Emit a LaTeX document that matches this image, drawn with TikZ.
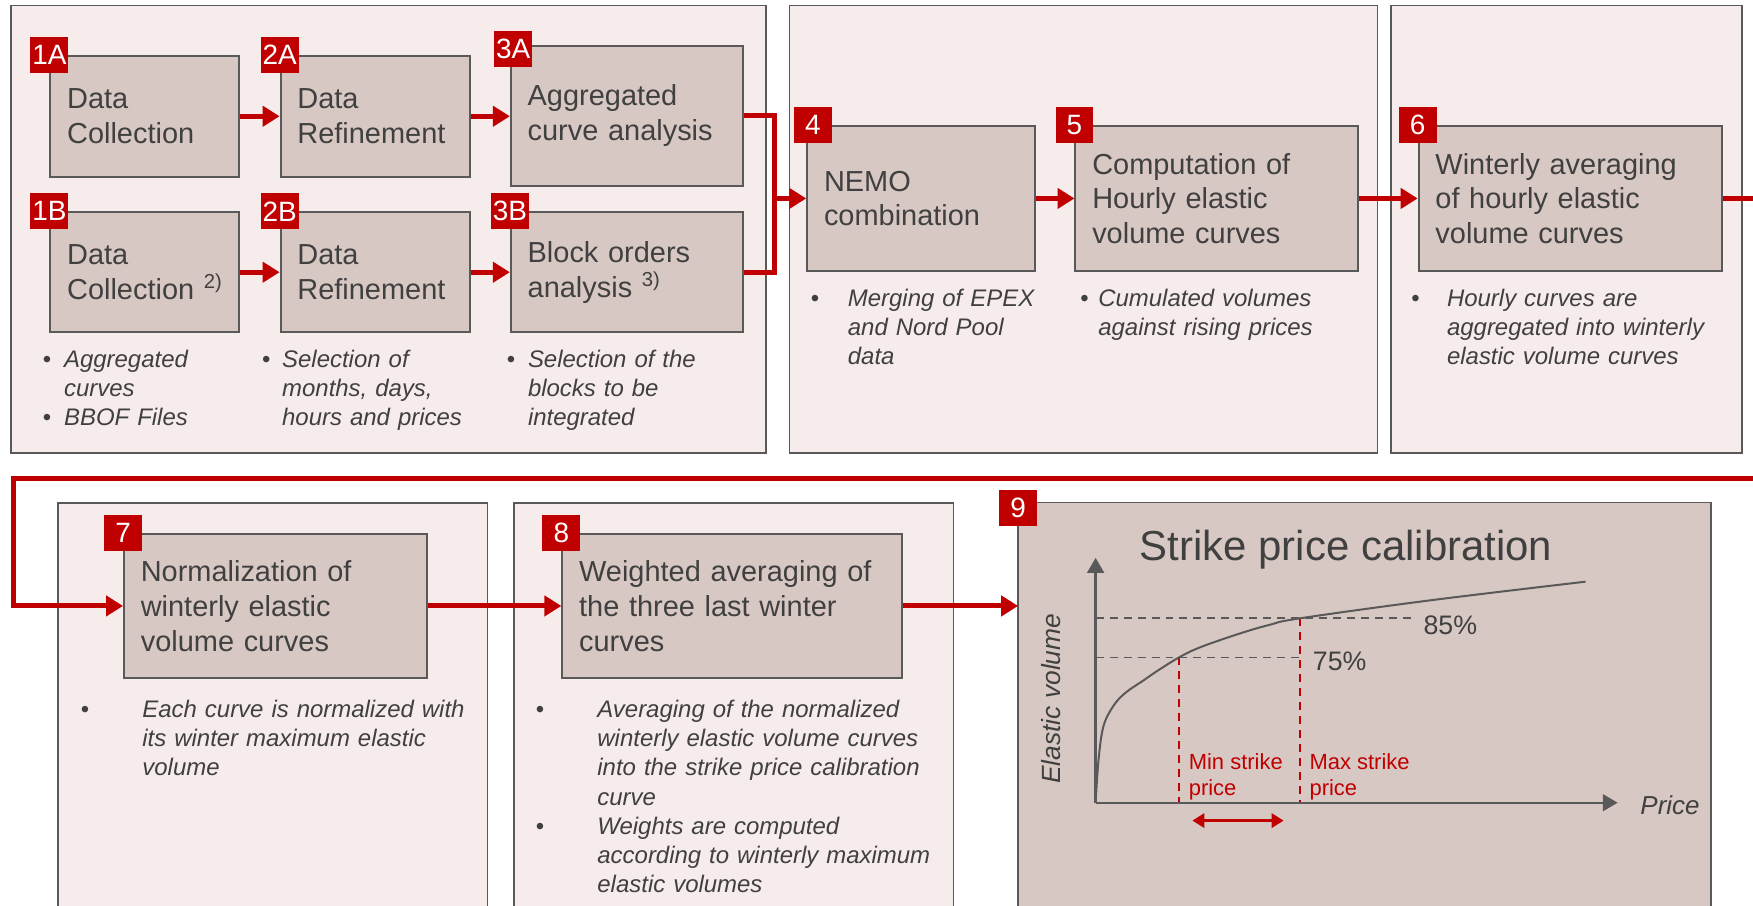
\documentclass[tikz,border=0pt]{standalone}
\usepackage{fontspec}
\setmainfont{Liberation Sans}
\usepackage{tikz}
\usetikzlibrary{arrows.meta,positioning,calc}
\definecolor{SPred}{RGB}{192,0,0}
\definecolor{SPpanel}{RGB}{247,236,236}
\definecolor{SPbox}{RGB}{216,200,196}
\definecolor{SPline}{RGB}{89,89,89}
\definecolor{SPtext}{RGB}{64,64,64}
\newcommand{\bpoint}[2]{\noindent\hangindent=#1\hangafter=1\makebox[#1][l]{\textbullet}{\itshape\let\\\newline #2}\par}

\begin{document}
\begin{tikzpicture}[x=0.56pt, y=-0.56pt,
    panel/.style={fill=SPpanel, draw=SPline, line width=0.8pt},
    procbox/.style={draw=SPline, line width=1pt, fill=SPbox, align=left, inner xsep=8.4pt, inner ysep=0pt,
        font=\fontsize{14.5}{17.4}\selectfont, text=SPtext},
    badge/.style={fill=SPred, text=white, minimum width=19pt, minimum height=18pt, inner sep=0pt,
        font=\fontsize{14}{14}\selectfont},
    note/.style={anchor=north west, inner sep=0pt, text width=200pt, align=left,
        font=\fontsize{12}{14.6}\selectfont, text=SPtext},
    flow/.style={draw=SPred, line width=2.5pt},
    flowarrow/.style={flow, -{Triangle[length=8.5pt,width=10pt]}},
    axis/.style={draw=SPline, line width=1.2pt, -{Triangle[length=7.5pt,width=8.4pt]}},
    guide/.style={dashed, dash pattern=on 4pt off 3pt, line width=0.8pt},
    lbl/.style={text=SPtext, inner sep=0pt}]
    \useasboundingbox (0,0) rectangle (1568,810);

    % Panels
    \draw[panel] (10,5) rectangle (685,405);
    \draw[panel] (706,5) rectangle (1232,405);
    \draw[panel] (1244,5) rectangle (1558,405);
    \fill[SPpanel] (52,450) rectangle (436,810);
    \draw[SPline, line width=0.8pt] (52,810) |- (436,450) -- (436,810);
    \fill[SPpanel] (460,450) rectangle (853,810);
    \draw[SPline, line width=0.8pt] (460,810) |- (853,450) -- (853,810);
    \node[fill=SPbox, minimum width=346.6pt, minimum height=201.6pt, inner sep=0pt] (calib) at (1220.5,630) {};
    \draw[SPline, line width=0.8pt] (calib.south west) |- (calib.north east) -- (calib.south east);

    % Steps
    \node[procbox, text width=77.8pt, minimum height=60.5pt] (dc1a) at (129.5,104) {Data\\Collection};
    \node[procbox, text width=77.8pt, minimum height=60.5pt] (ref2a) at (335.5,104) {Data\\Refinement};
    \node[procbox, text width=99.7pt, minimum height=70pt] (agg3a) at (561,103.5) {Aggregated\\curve analysis};
    \node[procbox, text width=77.8pt, minimum height=60pt] (dc1b) at (129.5,243.5) {Data\\\mbox{Collection \textsuperscript{2)}}};
    \node[procbox, text width=77.8pt, minimum height=60pt] (ref2b) at (335.5,243.5) {Data\\Refinement};
    \node[procbox, text width=99.7pt, minimum height=60pt] (blk3b) at (561,243.5) {Block orders\\analysis \textsuperscript{3)}};
    \node[procbox, text width=97.4pt, minimum height=72.2pt] (nemo) at (824,177.5) {NEMO\\combination};
    \node[procbox, text width=124.9pt, minimum height=72.2pt] (cumv) at (1088.5,177.5) {Computation of\\Hourly elastic\\volume curves};
    \node[procbox, text width=135pt, minimum height=72.2pt] (wint) at (1404.5,177.5) {Winterly averaging\\of hourly elastic\\volume curves};
    \node[procbox, text width=135pt, minimum height=71.7pt] (norm) at (246.5,542) {Normalization of\\winterly elastic\\volume curves};
    \node[procbox, text width=153.4pt, minimum height=71.7pt] (wavg) at (655,542) {Weighted averaging of\\the three last winter\\curves};

    % Badges
    \node[badge] (b1a) at (dc1a.north west) {1A};
    \node[badge] (b2a) at (ref2a.north west) {2A};
    \node[badge] (b3a) at ($(agg3a.north west)+(3,4)$) {3A};
    \node[badge] (b1b) at (dc1b.north west) {1B};
    \node[badge] (b2b) at (ref2b.north west) {2B};
    \node[badge] (b3b) at (blk3b.north west) {3B};
    \node[badge] (b4) at ($(nemo.north west)+(6,0)$) {4};
    \node[badge] (b5) at (cumv.north west) {5};
    \node[badge] (b6) at (wint.north west) {6};
    \node[badge] (b7) at (norm.north west) {7};
    \node[badge] (b8) at (wavg.north west) {8};
    \node[badge] (b9) at ($(calib.north west)+(0,5)$) {9};

    % Notes
    \node[note] (n1) at (38,313) {\bpoint{10.6pt}{Aggregated\\curves}\bpoint{10.6pt}{BBOF Files}};
    \node[note] (n2) at (234,313) {\bpoint{10.1pt}{Selection of\\months, days,\\hours and prices}};
    \node[note] (n3) at (453,313) {\bpoint{10.6pt}{Selection of the\\blocks to be\\integrated}};
    \node[note] (n4) at (725,258) {\bpoint{18.5pt}{Merging of EPEX\\and Nord Pool\\data}};
    \node[note] (n5) at (966,258) {\bpoint{9pt}{Cumulated volumes\\against rising prices}};
    \node[note] (n6) at (1262,258) {\bpoint{17.9pt}{Hourly curves are\\aggregated into winterly\\elastic volume curves}};
    \node[note] (n7) at (72,626) {\bpoint{30.8pt}{Each curve is normalized with\\its winter maximum elastic\\volume}};
    \node[note] (n8) at (479,626) {\bpoint{30.8pt}{Averaging of the normalized\\winterly elastic volume curves\\into the strike price calibration\\curve}\bpoint{30.8pt}{Weights are computed\\according to winterly maximum\\elastic volumes}};

    % Flow
    \coordinate (join) at (693,177.5);
    \coordinate (exitR) at (1568,177.5);
    \coordinate (wrapR) at (1568,428);
    \coordinate (wrapL) at (12,428);
    \draw[flowarrow] (dc1a) -- (ref2a);
    \draw[flowarrow] (ref2a.east) -- (ref2a.east -| agg3a.west);
    \draw[flowarrow] (dc1b) -- (ref2b);
    \draw[flowarrow] (ref2b) -- (blk3b);
    \draw[flow] (agg3a.east) -| (join) |- (blk3b.east);
    \draw[flowarrow] (join) -- (nemo.west);
    \draw[flowarrow] (nemo) -- (cumv);
    \draw[flowarrow] (cumv) -- (wint);
    \draw[flow] (wint.east) -- (exitR);
    \draw[flowarrow] (wrapR) -- (wrapL) |- (norm.west);
    \draw[flowarrow] (norm) -- (wavg);
    \draw[flowarrow] (wavg.east) -- (wavg.east -| calib.west);

    % Calibration chart
    \coordinate (origin) at (980,718);
    \coordinate (ytop) at (980,499);
    \coordinate (xend) at (1447,718);
    \node[lbl, font=\fontsize{21}{21}\selectfont] (ctitle) at (1204,492) {Strike price calibration};
    \draw[guide, SPline] (980,553) -- (1264,553);
    \draw[guide, SPline] (980,588) -- (1162,588);
    \draw[guide, SPred] (1054.5,588) -- (1054.5,717);
    \draw[guide, SPred] (1163,553) -- (1163,717);
    \draw[SPline, line width=1pt] plot[smooth, tension=0.6] coordinates {(origin) (982.6,679.8) (986.9,650)
        (995.5,632) (1006.3,620) (1023.4,608.2) (1036.4,599.3) (1055.7,587.4) (1075,578.4)
        (1109.5,566.5) (1135.2,559) (1163.2,553) (1281.5,536.7) (1418.2,520.3)};
    \draw[axis] (origin) -- (ytop);
    \draw[axis] (origin) -- (xend);
    \node[lbl, anchor=west, font=\fontsize{13.4}{13.4}\selectfont] (p85) at (1273,559) {85\%};
    \node[lbl, anchor=west, font=\fontsize{13.4}{13.4}\selectfont] (p75) at (1174,592) {75\%};
    \node[lbl, anchor=west, align=left, text=SPred, font=\fontsize{11}{12.7}\selectfont] (minp) at (1063,695) {Min strike\\price};
    \node[lbl, anchor=west, align=left, text=SPred, font=\fontsize{11}{12.7}\selectfont] (maxp) at (1171,695) {Max strike\\price};
    \node[lbl, anchor=west, font=\fontsize{13}{13}\selectfont\itshape] (xlbl) at (1467,720) {Price};
    \node[lbl, rotate=90, font=\fontsize{13.2}{13.2}\selectfont\itshape] (ylbl) at (940,625) {Elastic volume};
    \coordinate (spanL) at (1066.5,734);
    \coordinate (spanR) at (1148.2,734);
    \draw[SPred, line width=1.5pt, {Triangle[length=6pt,width=7pt]}-{Triangle[length=6pt,width=7pt]}] (spanL) -- (spanR);
\end{tikzpicture}
\end{document}
